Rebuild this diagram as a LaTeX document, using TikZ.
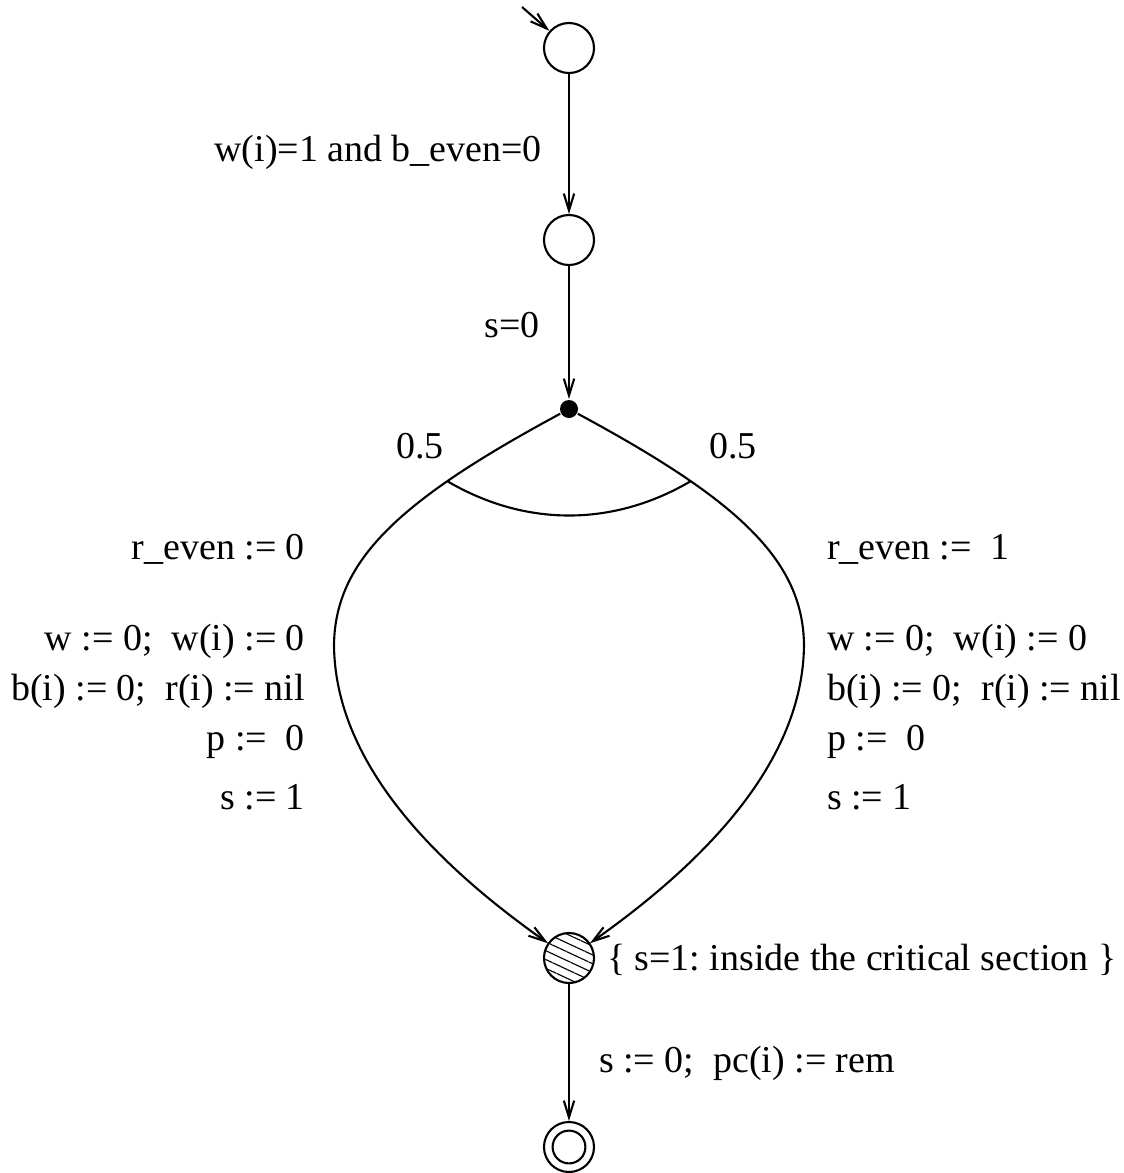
\documentclass[tikz,border=0pt]{standalone}
\usepackage{fontspec}
\setmainfont{Liberation Serif}
\usetikzlibrary{
  arrows.meta,
  patterns.meta,
  positioning
}

\begin{document}
\begin{tikzpicture}[
  x=0.025cm, y=-0.025cm,
  line width=1.5pt,
  every node/.style={font=\fontsize{27}{32}\selectfont\frenchspacing},
  state/.style={draw, circle, line width=1.5pt, minimum size=1.25cm, inner sep=0pt},
  critstate/.style={state, pattern={Lines[angle=-25, distance=0.2cm, line width=0.8pt]}},
  branch/.style={circle, fill, inner sep=0pt, minimum size=0.45cm},
  lbl/.style={inner sep=0pt},
  >={Straight Barb[length=0.42cm, width=0.26cm]}
]
\useasboundingbox (0,0) rectangle (1124,1173);

% States
\coordinate (start) at (522,7);
\node[state] (init) at (569,48) {};
\node[state] (wait) at (569,240) {};
\node[branch] (br) at (569,409) {};
\node[critstate] (crit) at (569,958) {};
\node[state] (fin) at (569,1147) {};
\node[circle, draw, line width=1.5pt, minimum size=0.82cm, inner sep=0pt] (finin) at (fin) {};

% Helper points on the two branches
\coordinate (lmid) at (334,645);
\coordinate (rmid) at (804,645);
\coordinate (la) at (447,481);
\coordinate (ra) at (691,481);

% Transitions
\draw[->] (start) -- (init);
\draw[->] (init) -- (wait);
\draw[->] (wait) -- (br);
\draw[->] (br) .. controls (400,500) and (335,560) .. (lmid)
  .. controls (335,760) and (430,860) .. (crit);
\draw[->] (br) .. controls (738,500) and (803,560) .. (rmid)
  .. controls (803,760) and (708,860) .. (crit);
\draw (la) .. controls (525,527) and (613,527) .. (ra);
\draw[->] (crit) -- (fin);

% Guards
\node[lbl, anchor=base east] (g1) at (543,161) {w(i)=1 and b\_even=0};
\node[lbl, anchor=base east] (g2) at (541,337) {s=0};
\node[lbl, anchor=base] (pl) at (420,458) {0.5};
\node[lbl, anchor=base] (pr) at (733,458) {0.5};

% Left branch
\node[lbl, anchor=base east] (l1) at (306,559) {r\_even := 0};
\node[lbl, anchor=base east] (l2) at (306,650) {w := 0;\ \ w(i) := 0};
\node[lbl, anchor=base east] (l3) at (306,700) {b(i) := 0;\ \ r(i) := nil};
\node[lbl, anchor=base east] (l4) at (306,750) {p :=\ \ 0};
\node[lbl, anchor=base east] (l5) at (306,809) {s := 1};

% Right branch
\node[lbl, anchor=base west] (r1) at (826,559) {r\_even :=\ \ 1};
\node[lbl, anchor=base west] (r2) at (826,650) {w := 0;\ \ w(i) := 0};
\node[lbl, anchor=base west] (r3) at (826,700) {b(i) := 0;\ \ r(i) := nil};
\node[lbl, anchor=base west] (r4) at (826,750) {p :=\ \ 0};
\node[lbl, anchor=base west] (r5) at (826,809) {s := 1};

% Critical section
\node[lbl, anchor=base west] (inv) at (606,970) {\{ s=1: inside the critical section \}};
\node[lbl, anchor=base west] (g3) at (598,1072) {s := 0;\ \ pc(i) := rem};

\end{tikzpicture}
\end{document}
